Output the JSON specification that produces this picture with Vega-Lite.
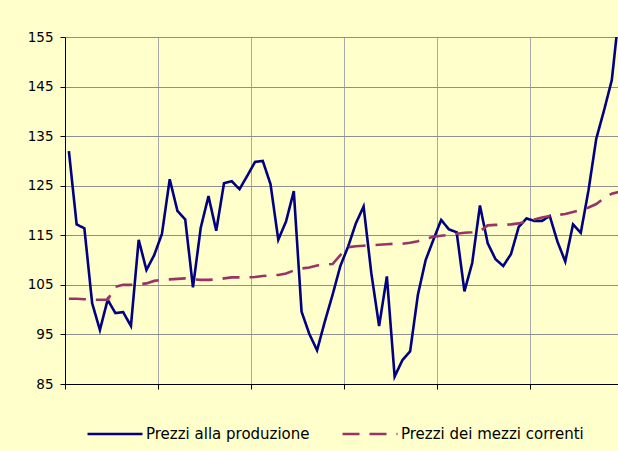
{
  "$schema": "https://vega.github.io/schema/vega-lite/v6.json",
  "width": 553,
  "height": 347,
  "autosize": "none",
  "padding": {"left": 65, "top": 37, "right": 0, "bottom": 67},
  "background": "#FFFFCC",
  "config": {
    "view": {"stroke": null},
    "font": "DejaVu Sans",
    "legend": {
      "orient": "none",
      "legendX": 21,
      "legendY": 368,
      "direction": "horizontal",
      "symbolType": "stroke",
      "symbolSize": 3025,
      "symbolStrokeWidth": 2.6,
      "labelFont": "DejaVu Sans",
      "labelFontSize": 15,
      "labelColor": "#000000",
      "labelLimit": 400,
      "labelOffset": 2,
      "columnPadding": 27,
      "padding": 0
    }
  },
  "data": {
    "values": [
      {"mese": 0, "Prezzi alla produzione": 132.0, "Prezzi dei mezzi correnti": 102.2},
      {"mese": 1, "Prezzi alla produzione": 117.2, "Prezzi dei mezzi correnti": 102.2},
      {"mese": 2, "Prezzi alla produzione": 116.4, "Prezzi dei mezzi correnti": 102.1},
      {"mese": 3, "Prezzi alla produzione": 101.3, "Prezzi dei mezzi correnti": 102.0},
      {"mese": 4, "Prezzi alla produzione": 95.9, "Prezzi dei mezzi correnti": 102.0},
      {"mese": 5, "Prezzi alla produzione": 102.0, "Prezzi dei mezzi correnti": 102.0},
      {"mese": 6, "Prezzi alla produzione": 99.3, "Prezzi dei mezzi correnti": 104.6},
      {"mese": 7, "Prezzi alla produzione": 99.5, "Prezzi dei mezzi correnti": 105.0},
      {"mese": 8, "Prezzi alla produzione": 96.7, "Prezzi dei mezzi correnti": 105.0},
      {"mese": 9, "Prezzi alla produzione": 114.1, "Prezzi dei mezzi correnti": 105.1},
      {"mese": 10, "Prezzi alla produzione": 108.0, "Prezzi dei mezzi correnti": 105.3},
      {"mese": 11, "Prezzi alla produzione": 111.0, "Prezzi dei mezzi correnti": 105.8},
      {"mese": 12, "Prezzi alla produzione": 115.3, "Prezzi dei mezzi correnti": 106.0},
      {"mese": 13, "Prezzi alla produzione": 126.3, "Prezzi dei mezzi correnti": 106.1},
      {"mese": 14, "Prezzi alla produzione": 119.9, "Prezzi dei mezzi correnti": 106.2},
      {"mese": 15, "Prezzi alla produzione": 118.2, "Prezzi dei mezzi correnti": 106.3},
      {"mese": 16, "Prezzi alla produzione": 104.5, "Prezzi dei mezzi correnti": 106.1},
      {"mese": 17, "Prezzi alla produzione": 116.5, "Prezzi dei mezzi correnti": 106.0},
      {"mese": 18, "Prezzi alla produzione": 122.9, "Prezzi dei mezzi correnti": 106.0},
      {"mese": 19, "Prezzi alla produzione": 115.9, "Prezzi dei mezzi correnti": 106.1},
      {"mese": 20, "Prezzi alla produzione": 125.5, "Prezzi dei mezzi correnti": 106.3},
      {"mese": 21, "Prezzi alla produzione": 125.9, "Prezzi dei mezzi correnti": 106.5},
      {"mese": 22, "Prezzi alla produzione": 124.3, "Prezzi dei mezzi correnti": 106.5},
      {"mese": 23, "Prezzi alla produzione": 127.0, "Prezzi dei mezzi correnti": 106.5},
      {"mese": 24, "Prezzi alla produzione": 129.8, "Prezzi dei mezzi correnti": 106.6},
      {"mese": 25, "Prezzi alla produzione": 130.0, "Prezzi dei mezzi correnti": 106.8},
      {"mese": 26, "Prezzi alla produzione": 125.3, "Prezzi dei mezzi correnti": 106.9},
      {"mese": 27, "Prezzi alla produzione": 114.1, "Prezzi dei mezzi correnti": 107.0},
      {"mese": 28, "Prezzi alla produzione": 117.8, "Prezzi dei mezzi correnti": 107.3},
      {"mese": 29, "Prezzi alla produzione": 123.9, "Prezzi dei mezzi correnti": 107.9},
      {"mese": 30, "Prezzi alla produzione": 99.6, "Prezzi dei mezzi correnti": 108.3},
      {"mese": 31, "Prezzi alla produzione": 95.1, "Prezzi dei mezzi correnti": 108.5},
      {"mese": 32, "Prezzi alla produzione": 91.8, "Prezzi dei mezzi correnti": 108.9},
      {"mese": 33, "Prezzi alla produzione": 97.6, "Prezzi dei mezzi correnti": 109.1},
      {"mese": 34, "Prezzi alla produzione": 103.0, "Prezzi dei mezzi correnti": 109.2},
      {"mese": 35, "Prezzi alla produzione": 108.8, "Prezzi dei mezzi correnti": 111.0},
      {"mese": 36, "Prezzi alla produzione": 112.7, "Prezzi dei mezzi correnti": 112.6},
      {"mese": 37, "Prezzi alla produzione": 117.4, "Prezzi dei mezzi correnti": 112.8},
      {"mese": 38, "Prezzi alla produzione": 120.8, "Prezzi dei mezzi correnti": 112.9},
      {"mese": 39, "Prezzi alla produzione": 107.3, "Prezzi dei mezzi correnti": 113.0},
      {"mese": 40, "Prezzi alla produzione": 96.7, "Prezzi dei mezzi correnti": 113.1},
      {"mese": 41, "Prezzi alla produzione": 106.7, "Prezzi dei mezzi correnti": 113.2},
      {"mese": 42, "Prezzi alla produzione": 86.5, "Prezzi dei mezzi correnti": 113.3},
      {"mese": 43, "Prezzi alla produzione": 89.8, "Prezzi dei mezzi correnti": 113.3},
      {"mese": 44, "Prezzi alla produzione": 91.6, "Prezzi dei mezzi correnti": 113.5},
      {"mese": 45, "Prezzi alla produzione": 103.0, "Prezzi dei mezzi correnti": 113.8},
      {"mese": 46, "Prezzi alla produzione": 110.0, "Prezzi dei mezzi correnti": 114.3},
      {"mese": 47, "Prezzi alla produzione": 114.1, "Prezzi dei mezzi correnti": 114.7},
      {"mese": 48, "Prezzi alla produzione": 118.1, "Prezzi dei mezzi correnti": 114.9},
      {"mese": 49, "Prezzi alla produzione": 116.2, "Prezzi dei mezzi correnti": 115.1},
      {"mese": 50, "Prezzi alla produzione": 115.6, "Prezzi dei mezzi correnti": 115.3},
      {"mese": 51, "Prezzi alla produzione": 103.7, "Prezzi dei mezzi correnti": 115.5},
      {"mese": 52, "Prezzi alla produzione": 109.4, "Prezzi dei mezzi correnti": 115.6},
      {"mese": 53, "Prezzi alla produzione": 121.0, "Prezzi dei mezzi correnti": 115.8},
      {"mese": 54, "Prezzi alla produzione": 113.4, "Prezzi dei mezzi correnti": 117.0},
      {"mese": 55, "Prezzi alla produzione": 110.2, "Prezzi dei mezzi correnti": 117.1},
      {"mese": 56, "Prezzi alla produzione": 108.8, "Prezzi dei mezzi correnti": 117.1},
      {"mese": 57, "Prezzi alla produzione": 111.2, "Prezzi dei mezzi correnti": 117.2},
      {"mese": 58, "Prezzi alla produzione": 116.7, "Prezzi dei mezzi correnti": 117.4},
      {"mese": 59, "Prezzi alla produzione": 118.4, "Prezzi dei mezzi correnti": 117.8},
      {"mese": 60, "Prezzi alla produzione": 117.9, "Prezzi dei mezzi correnti": 118.2},
      {"mese": 61, "Prezzi alla produzione": 117.9, "Prezzi dei mezzi correnti": 118.6},
      {"mese": 62, "Prezzi alla produzione": 118.9, "Prezzi dei mezzi correnti": 118.9},
      {"mese": 63, "Prezzi alla produzione": 113.7, "Prezzi dei mezzi correnti": 119.1},
      {"mese": 64, "Prezzi alla produzione": 109.7, "Prezzi dei mezzi correnti": 119.3},
      {"mese": 65, "Prezzi alla produzione": 117.2, "Prezzi dei mezzi correnti": 119.7},
      {"mese": 66, "Prezzi alla produzione": 115.5, "Prezzi dei mezzi correnti": 120.1},
      {"mese": 67, "Prezzi alla produzione": 124.1, "Prezzi dei mezzi correnti": 120.6},
      {"mese": 68, "Prezzi alla produzione": 134.5, "Prezzi dei mezzi correnti": 121.3},
      {"mese": 69, "Prezzi alla produzione": 140.2, "Prezzi dei mezzi correnti": 122.5},
      {"mese": 70, "Prezzi alla produzione": 146.3, "Prezzi dei mezzi correnti": 123.4},
      {"mese": 71, "Prezzi alla produzione": 160.8, "Prezzi dei mezzi correnti": 123.8}
    ]
  },
  "transform": [
    {"fold": ["Prezzi alla produzione", "Prezzi dei mezzi correnti"], "as": ["serie", "valore"]}
  ],
  "mark": {"type": "line", "clip": true, "strokeWidth": 2.6},
  "encoding": {
    "x": {
      "field": "mese",
      "type": "quantitative",
      "scale": {"domain": [-0.5, 70.8], "nice": false, "zero": false},
      "axis": {
        "values": [-0.5, 11.5, 23.5, 35.5, 47.5, 59.5],
        "labels": false,
        "title": null,
        "grid": true,
        "gridColor": "#a8a8a8",
        "gridOpacity": 1,
        "domainColor": "#000000",
        "tickColor": "#000000",
        "tickSize": 5
      }
    },
    "y": {
      "field": "valore",
      "type": "quantitative",
      "scale": {"domain": [85, 155], "nice": false, "zero": false},
      "axis": {
        "values": [85, 95, 105, 115, 125, 135, 145, 155],
        "title": null,
        "grid": true,
        "gridColor": "#8f8f8f",
        "gridOpacity": 1,
        "domainColor": "#000000",
        "tickColor": "#000000",
        "tickSize": 5,
        "labelFont": "DejaVu Sans",
        "labelFontSize": 13.5,
        "labelColor": "#000000",
        "labelPadding": 7
      }
    },
    "color": {
      "field": "serie",
      "type": "nominal",
      "scale": {"domain": ["Prezzi alla produzione", "Prezzi dei mezzi correnti"], "range": ["#000080", "#993366"]},
      "legend": {"title": null}
    },
    "strokeDash": {
      "field": "serie",
      "type": "nominal",
      "scale": {"domain": ["Prezzi alla produzione", "Prezzi dei mezzi correnti"], "range": [[1, 0], [17, 10]]},
      "legend": {"title": null}
    }
  }
}
